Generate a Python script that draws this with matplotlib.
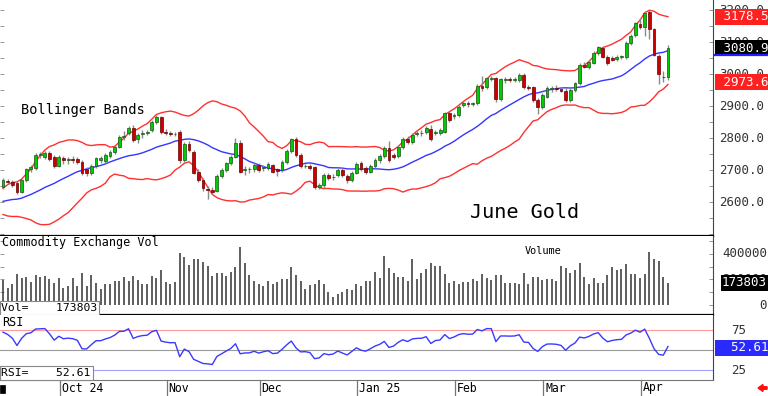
import numpy as np
import pandas as pd
import matplotlib
matplotlib.use('Agg')
import matplotlib.pyplot as plt
import matplotlib.transforms as mtransforms
from matplotlib.patches import Rectangle, FancyArrow

# closes before the first shown bar, only used to warm up the indicators
pre_close = [2600, 2600, 2610, 2605, 2580, 2600, 2605, 2610, 2592, 2610,
             2587, 2580, 2582, 2596, 2582, 2590, 2600, 2602, 2640]

opens = [2648, 2666, 2663, 2660, 2632, 2670, 2702, 2706, 2747, 2740,
         2752, 2740, 2713, 2738, 2731, 2734, 2733, 2725, 2703, 2690,
         2712, 2730, 2728, 2744, 2757, 2773, 2803, 2815, 2830, 2796,
         2812, 2816, 2825, 2851, 2865, 2820, 2815, 2812, 2820, 2731,
         2780, 2757, 2695, 2669, 2642, 2637, 2635, 2681, 2700, 2721,
         2742, 2785, 2700, 2702, 2702, 2716, 2707, 2705, 2716, 2702,
         2700, 2724, 2760, 2796, 2747, 2711, 2713, 2710, 2646, 2653,
         2684, 2677, 2684, 2700, 2682, 2669, 2692, 2721, 2705, 2695,
         2712, 2730, 2744, 2768, 2746, 2744, 2773, 2796, 2788, 2812,
         2815, 2820, 2827, 2815, 2817, 2820, 2877, 2868, 2872, 2904,
         2910, 2907, 2910, 2963, 2958, 2984, 2986, 2921, 2980, 2985,
         2980, 2980, 2997, 2960, 2958, 2919, 2898, 2929, 2952, 2957,
         2953, 2948, 2919, 2950, 2971, 3029, 3023, 3035, 3067, 3080,
         3054, 3049, 3046, 3052, 3054, 3098, 3122, 3156, 3148, 3195,
         3140, 3056, 2992, 2990]
highs = [2674, 2672, 2668, 2664, 2672, 2706, 2716, 2752, 2755, 2760,
         2758, 2748, 2748, 2745, 2742, 2745, 2740, 2730, 2708, 2718,
         2742, 2745, 2752, 2762, 2778, 2810, 2822, 2838, 2840, 2815,
         2825, 2826, 2856, 2872, 2870, 2828, 2822, 2820, 2825, 2786,
         2790, 2762, 2702, 2675, 2650, 2648, 2686, 2705, 2726, 2747,
         2800, 2795, 2712, 2710, 2722, 2722, 2716, 2724, 2720, 2706,
         2730, 2765, 2800, 2802, 2752, 2720, 2718, 2714, 2660, 2690,
         2690, 2686, 2706, 2706, 2688, 2698, 2724, 2728, 2712, 2718,
         2736, 2750, 2775, 2790, 2752, 2778, 2802, 2806, 2815, 2822,
         2824, 2836, 2840, 2826, 2830, 2882, 2884, 2878, 2904, 2916,
         2916, 2914, 2968, 2995, 2992, 2994, 2990, 2988, 2990, 2992,
         2990, 3002, 3003, 2966, 2964, 2924, 2940, 2962, 2964, 2965,
         2960, 2955, 2956, 2976, 3034, 3036, 3044, 3072, 3088, 3086,
         3060, 3056, 3058, 3060, 3104, 3124, 3164, 3175, 3198, 3201,
         3145, 3062, 3010, 3090]
lows = [2640, 2655, 2648, 2626, 2628, 2662, 2695, 2700, 2738, 2735,
        2728, 2705, 2708, 2720, 2720, 2722, 2718, 2684, 2682, 2685,
        2705, 2722, 2722, 2738, 2750, 2768, 2795, 2808, 2788, 2785,
        2800, 2808, 2818, 2845, 2812, 2810, 2805, 2805, 2722, 2725,
        2755, 2686, 2662, 2635, 2608, 2625, 2630, 2675, 2695, 2715,
        2736, 2690, 2685, 2692, 2695, 2695, 2698, 2700, 2690, 2680,
        2695, 2718, 2752, 2742, 2706, 2705, 2700, 2640, 2640, 2645,
        2668, 2670, 2678, 2678, 2660, 2662, 2686, 2696, 2688, 2690,
        2706, 2722, 2738, 2725, 2735, 2738, 2766, 2780, 2782, 2805,
        2806, 2814, 2790, 2808, 2810, 2815, 2850, 2860, 2866, 2896,
        2898, 2900, 2904, 2948, 2952, 2978, 2912, 2915, 2972, 2976,
        2974, 2975, 2952, 2950, 2914, 2875, 2892, 2924, 2945, 2946,
        2944, 2914, 2912, 2944, 2965, 3018, 3016, 3030, 3060, 3050,
        3028, 3040, 3040, 3046, 3048, 3092, 3116, 3140, 3120, 3110,
        3055, 2969, 2975, 2980]
closes = [2669, 2663, 2653, 2630, 2668, 2702, 2710, 2747, 2749, 2752,
          2735, 2711, 2740, 2730, 2734, 2732, 2726, 2690, 2690, 2712,
          2736, 2736, 2747, 2756, 2773, 2804, 2806, 2830, 2794, 2809,
          2817, 2820, 2851, 2865, 2820, 2815, 2812, 2813, 2731, 2781,
          2762, 2692, 2669, 2643, 2638, 2630, 2681, 2700, 2721, 2742,
          2785, 2695, 2702, 2703, 2716, 2700, 2710, 2718, 2695, 2698,
          2724, 2760, 2796, 2747, 2712, 2714, 2706, 2648, 2653, 2684,
          2674, 2679, 2700, 2684, 2669, 2692, 2719, 2702, 2695, 2712,
          2731, 2744, 2768, 2731, 2742, 2773, 2796, 2786, 2809, 2815,
          2816, 2830, 2796, 2820, 2825, 2877, 2856, 2872, 2898, 2909,
          2906, 2908, 2962, 2956, 2986, 2986, 2921, 2983, 2983, 2982,
          2984, 2997, 2958, 2956, 2919, 2898, 2934, 2955, 2956, 2954,
          2948, 2919, 2950, 2971, 3028, 3023, 3039, 3067, 3083, 3054,
          3033, 3045, 3052, 3055, 3098, 3119, 3158, 3148, 3192, 3140,
          3059, 3000, 2990, 3080.9]

# volume in thousands of contracts
volume_k = [195, 136, 167, 246, 213, 218, 182, 233, 218, 231,
            200, 174, 213, 136, 149, 213, 149, 251, 149, 233,
            174, 123, 162, 167, 192, 192, 218, 187, 226, 195,
            162, 167, 231, 213, 277, 180, 162, 182, 410, 379,
            315, 359, 359, 341, 303, 226, 251, 251, 226, 256,
            295, 456, 328, 233, 192, 162, 149, 187, 162, 182,
            200, 200, 297, 238, 187, 123, 156, 162, 195, 162,
            105, 59, 85, 103, 123, 115, 162, 149, 187, 187,
            259, 213, 387, 290, 251, 220, 220, 192, 359, 205,
            251, 282, 328, 308, 308, 244, 174, 192, 162, 180,
            180, 205, 187, 244, 213, 195, 238, 233, 174, 169,
            169, 167, 251, 167, 218, 220, 195, 200, 200, 187,
            303, 290, 251, 277, 328, 218, 162, 208, 169, 169,
            238, 297, 272, 285, 321, 244, 244, 208, 244, 418,
            362, 346, 218, 173.803]

month_pos = [12, 35, 55, 76, 97, 116, 137]
month_labels = ['Oct 24', 'Nov', 'Dec', 'Jan 25', 'Feb', 'Mar', 'Apr']
price_ticks = [2600, 2700, 2800, 2900, 3000, 3100, 3200]
vol_ticks = [0, 200000, 400000]
rsi_ticks = [25, 75]
last_close = 3080.9
upper_last = 3178.5
lower_last = 2973.6
last_vol = 173803
last_rsi = 52.61

plt.rcParams['font.family'] = ['DejaVu Sans Mono', 'DejaVu Sans']

# indicators: Bollinger(20, 2) and RSI(14)
npre = len(pre_close)
allc = pd.Series(pre_close + closes, dtype=float)
mid = allc.rolling(20).mean()
sd = allc.rolling(20).std(ddof=0)
band_up = (mid + 2 * sd).values[npre:]
band_lo = (mid - 2 * sd).values[npre:]
band_mid = mid.values[npre:]
delta = allc.diff()
gain = delta.clip(lower=0).ewm(alpha=1 / 14, adjust=False).mean()
loss = (-delta.clip(upper=0)).ewm(alpha=1 / 14, adjust=False).mean()
rsi = (100 - 100 / (1 + gain / loss)).values[npre:]

o = np.array(opens, float)
h = np.array(highs, float)
l = np.array(lows, float)
c = np.array(closes, float)
v = np.array(volume_k, float) * 1000
x = np.arange(len(c))

W, H = 768, 396
fig = plt.figure(figsize=(W / 100, H / 100), dpi=100)
aw = 713 / W
ax = fig.add_axes([0, 1 - 236 / H, aw, 236 / H])
axv = fig.add_axes([0, 1 - 315 / H, aw, 79 / H], sharex=ax)
axr = fig.add_axes([0, 1 - 380 / H, aw, 65 / H], sharex=ax)

ax.set_xlim(-3 / 4.65, 710 / 4.65)
ax.set_ylim(2493.75, 3231.25)
axv.set_ylim(-78400, 541000)
axr.set_ylim(12.5, 93.75)

for a in (ax, axv, axr):
    a.spines['top'].set_visible(False)
    a.spines['left'].set_visible(False)
    a.spines['right'].set_color('#444444')
    a.tick_params(axis='x', which='both', bottom=False, labelbottom=False)
    a.tick_params(axis='y', which='both', left=True, right=True, direction='in',
                  length=3, width=0.6, color='#888888', labelleft=False, labelright=False)
ax.spines['bottom'].set_linewidth(1.6)
axv.spines['bottom'].set_linewidth(1.6)
axr.spines['bottom'].set_color('#777777')
ax.set_yticks(np.arange(2500, 3231, 50))
axv.set_yticks(np.arange(0, 500001, 100000))
axr.set_yticks([25, 50, 75])

# price panel
ax.plot(x, band_up, color='#ff3030', lw=1, zorder=1)
ax.plot(x, band_lo, color='#ff3030', lw=1, zorder=1)
ax.plot(x, band_mid, color='#3535ff', lw=1, zorder=1)
ax.vlines(x, l, h, color='#8a8a8a', lw=1, zorder=2)
rising = c >= o
body_col = np.where(rising, '#00cc00', '#cc0000')
body_edge = np.where(rising, '#1c4f1c', '#6a0000')
ax.bar(x, np.maximum(np.abs(c - o), 1.5), bottom=np.minimum(o, c), width=0.62,
       color=body_col, edgecolor=body_edge, lw=0.5, zorder=3)

ax.text(0.029, 1 - 110 / 236, 'Bollinger Bands', transform=ax.transAxes,
        fontsize=9.8, va='center', ha='left')
ax.text(470 / 713, 1 - 212 / 236, 'June Gold', transform=ax.transAxes,
        fontsize=14.5, va='center', ha='left')

tr = mtransforms.blended_transform_factory(ax.transAxes, ax.transData)
for p in price_ticks:
    ax.text(719 / 713, p, f'{p:.1f}', transform=tr, fontsize=9, color='#333333',
            va='center', ha='left', clip_on=False)
for val, bg in ((upper_last, '#ff2020'), (lower_last, '#ff2020'), (last_close, '#000000')):
    ax.text(716 / 713, val, f' {val:.1f}', transform=tr, fontsize=9, color='white',
            va='center', ha='left', clip_on=False, zorder=6,
            bbox=dict(boxstyle='square,pad=0.12', fc=bg, ec='none'))
ul = mtransforms.offset_copy(tr, fig=fig, y=-6.5, units='dots')
ax.plot([715 / 713, 768 / 713], [last_close, last_close], transform=ul,
        color='#2020ff', lw=1.6, clip_on=False, zorder=7)

# volume panel
axv.vlines(x, 0, v, color='#333333', lw=1.1)
axv.text(0.003, 1 - 7 / 79, 'Commodity Exchange Vol', transform=axv.transAxes,
         fontsize=8.5, va='center', ha='left')
axv.text(525 / 713, 1 - 15 / 79, 'Volume', transform=axv.transAxes,
         fontsize=7.4, va='center', ha='left')
axv.text(0.002, 7 / 79, 'Vol=    ' + str(last_vol), transform=axv.transAxes,
         fontsize=8.2, va='center', ha='left',
         bbox=dict(boxstyle='square,pad=0.15', fc='white', ec='#888888', lw=0.8))
trv = mtransforms.blended_transform_factory(axv.transAxes, axv.transData)
for t in vol_ticks:
    axv.text(767 / 713, t, str(t), transform=trv, fontsize=9, color='#333333',
             va='center', ha='right', clip_on=False)
axv.text(767 / 713, last_vol, str(last_vol), transform=trv, fontsize=9, color='white',
         va='center', ha='right', clip_on=False, zorder=6,
         bbox=dict(boxstyle='square,pad=0.12', fc='black', ec='none'))

# RSI panel
axr.axhline(75, color='#ff9a9a', lw=0.8)
axr.axhline(50, color='#9a9a9a', lw=0.8)
axr.axhline(25, color='#a0a0ff', lw=0.8)
axr.plot(x, rsi, color='#3a3aff', lw=1)
axr.text(0.003, 1 - 8 / 65, 'RSI', transform=axr.transAxes, fontsize=8.5,
         va='center', ha='left')
axr.text(0.002, 7 / 65, f'RSI=    {last_rsi:.2f}', transform=axr.transAxes,
         fontsize=8.2, va='center', ha='left',
         bbox=dict(boxstyle='square,pad=0.15', fc='white', ec='#888888', lw=0.8))
trr = mtransforms.blended_transform_factory(axr.transAxes, axr.transData)
for t in rsi_ticks:
    axr.text(731 / 713, t, str(t), transform=trr, fontsize=9, color='#333333',
             va='center', ha='left', clip_on=False)
axr.text(716 / 713, last_rsi, f'  {last_rsi:.2f}', transform=trr, fontsize=9,
         color='white', va='center', ha='left', clip_on=False, zorder=6,
         bbox=dict(boxstyle='square,pad=0.12', fc='#2a2aff', ec='none'))

# month separators and labels under the RSI panel
trm = mtransforms.blended_transform_factory(axr.transData, axr.transAxes)
for pos, lab in zip(month_pos, month_labels):
    axr.plot([pos + 0.2, pos + 0.2], [0, -16 / 65], transform=trm, color='#777777',
             lw=0.9, clip_on=False)
    axr.text(pos + 0.6, -8 / 65, lab, transform=trm, fontsize=8.3, va='center',
             ha='left', clip_on=False)

fig.patches.append(Rectangle((0, 1 - 393 / H), 5 / W, 8 / H, transform=fig.transFigure,
                             fc='black', ec='black', lw=0.5))
fig.patches.append(FancyArrow(767 / W, 1 - 388 / H, -9 / W, 0, width=2.5 / H,
                              head_width=7 / H, head_length=5 / W,
                              length_includes_head=True, transform=fig.transFigure,
                              color='#ff1010'))

fig.savefig('out.png', dpi=100)
